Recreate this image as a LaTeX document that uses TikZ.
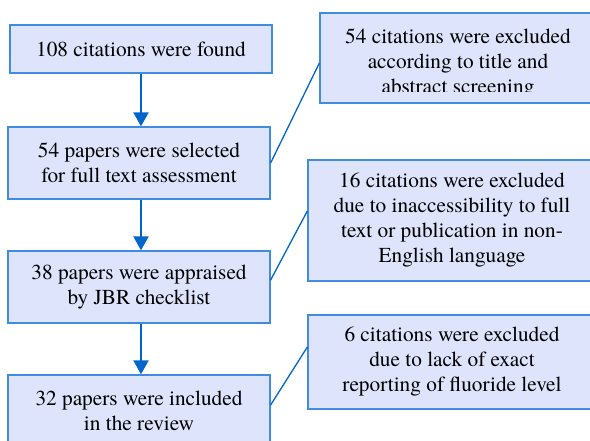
\documentclass[tikz,border=0pt]{standalone}
\usepackage{fontspec}
\setmainfont{TeX Gyre Termes}
\usetikzlibrary{arrows.meta,positioning}
\definecolor{boxfill}{RGB}{221,228,251}
\definecolor{boxline}{RGB}{64,140,222}
\definecolor{arrowc}{RGB}{0,102,204}
\begin{document}
\begin{tikzpicture}[x=1pt,y=-1pt,
  flowbox/.style={draw=boxline, fill=boxfill, line width=1.3pt, align=center,
    inner sep=0pt, font=\fontsize{21.3}{25}\selectfont},
  flowarrow/.style={draw=arrowc, line width=2.2pt, -{Triangle[width=15pt,length=14pt]}},
  link/.style={draw=arrowc, line width=1.3pt}]
\useasboundingbox (0,0) rectangle (590,441);
\clip (0,0) rectangle (590,441);
\node[flowbox, minimum width=262pt, minimum height=48pt] (b1) at (141,49) {108 citations were found};
\node[flowbox, minimum width=262pt, minimum height=72pt] (b2) at (139,163) {54 papers were selected\\for full text assessment};
\node[flowbox, minimum width=262pt, minimum height=72pt] (b3) at (139,287) {38 papers were appraised\\by JBR checklist};
\node[flowbox, minimum width=262pt, minimum height=72pt] (b4) at (139,411) {32 papers were included\\in the review};
\node[flowbox, minimum width=276pt, minimum height=90pt] (r1) at (458,58) {};
\begin{scope}
\clip (320,13) rectangle (596,92);
\node[align=center, inner sep=0pt, font=\fontsize{21.3}{25}\selectfont] (r1t) at (458,63) {54 citations were excluded\\according to title and\\abstract screening};
\end{scope}
\node[flowbox, minimum width=288pt, minimum height=121pt] (r2) at (452,220.5) {16 citations were excluded\\due to inaccessibility to full\\text or publication in non-\\English language};
\node[flowbox, minimum width=288pt, minimum height=94pt] (r3) at (452,362) {6 citations were excluded\\due to lack of exact\\reporting of fluoride level};
\draw[flowarrow] (b1.south) -- ([xshift=2pt]b2.north);
\draw[flowarrow] ([xshift=2pt]b2.south) -- ([xshift=2pt]b3.north);
\draw[flowarrow] ([xshift=2pt]b3.south) -- ([xshift=2pt]b4.north);
\draw[link] (b2.east) -- ([yshift=-5pt]r1.west);
\draw[link] ([yshift=7pt]b3.east) -- ([yshift=9.5pt]r2.west);
\draw[link] ([yshift=6pt]b4.east) -- ([yshift=15pt]r3.west);
\end{tikzpicture}
\end{document}
